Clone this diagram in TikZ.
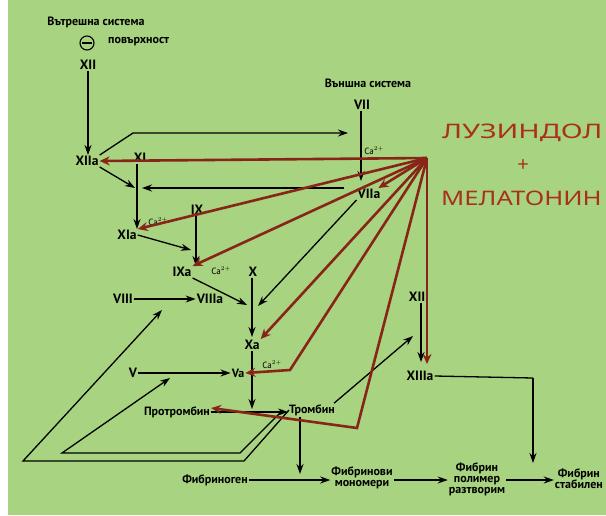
\documentclass[tikz,border=0pt]{standalone}
\usepackage{fontspec}
\setmainfont{PT Sans}
\newfontfamily\titlefont{Noto Sans}
\usetikzlibrary{arrows.meta}
\definecolor{bg}{RGB}{168,211,128}
\definecolor{rd}{RGB}{135,38,24}
\definecolor{tt}{RGB}{168,48,28}
\begin{document}
\begin{tikzpicture}[x=1pt,y=-1pt,
 lab/.style={font=\bfseries\fontsize{13.5}{14}\selectfont, inner sep=1pt},
 labs/.style={font=\bfseries\fontsize{12}{13}\selectfont, inner sep=1pt},
 sm/.style={font=\bfseries\fontsize{12}{12}\selectfont, inner sep=1pt, align=center},
 ca/.style={font=\fontsize{9}{9}\selectfont, inner sep=0pt},
 ttl/.style={font=\titlefont\fontsize{20}{20}\selectfont, text=tt, inner sep=0pt},
 bl/.style={line width=1.3pt, -{Stealth[length=10pt,width=7pt]}},
 bn/.style={line width=1.3pt},
 rl/.style={line width=2.6pt, draw=rd, -{Stealth[length=10pt,width=9pt]}},
]
\fill[white] (0,0) rectangle (606,515);
\fill[bg] (8,0) rectangle (606,515);
\useasboundingbox (0,0) rectangle (606,515);

% labels
\node[sm] (int) at (96,22) {Вътрешна система};
\node[draw, circle, line width=1.1pt, minimum size=14pt, inner sep=0pt] (surf) at (87,43) {};
\draw[line width=1.1pt] ([xshift=2.5pt]surf.west) -- ([xshift=-2.5pt]surf.east);
\node[sm, anchor=west] (pov) at (107,42) {повърхност};
\node[sm] (ext) at (368,83) {Външна система};

\node[lab] (XII) at (88,65) {XII};
\node[lab] (XIIa) at (87,161) {XIIa};
\node[lab] (XI) at (140,158) {XI};
\node[lab] (XIa) at (127,235) {XIa};
\node[lab] (IX) at (197,210) {IX};
\node[lab] (IXa) at (182,272) {IXa};
\node[lab] (X) at (253,272) {X};
\node[lab] (Xa) at (252,345) {Xa};
\node[lab] (VIII) at (123,299) {VIII};
\node[lab] (VIIIa) at (210,299) {VIIIa};
\node[lab] (V) at (133,373) {V};
\node[labs] (Va) at (238,373) {Va};
\node[lab] (VII) at (362,105) {VII};
\node[lab] (VIIa) at (369,194) {VIIa};
\node[lab] (XIII) at (419,297) {XIII};
\node[lab] (XIIIa) at (420,376) {XIIIa};

\node[sm] (prot) at (177,412) {Протромбин};
\node[sm] (trom) at (312,410) {Тромбин};
\node[sm] (fgen) at (215,480) {Фибриноген};
\node[sm] (fmon) at (362,478) {Фибринови\\[-1pt]мономери};
\node[sm] (fpol) at (477,479) {Фибрин\\[-1pt]полимер\\[-1pt]разтворим};
\node[sm, anchor=east] (fst) at (604,479) {Фибрин\\[-1pt]стабилен};

\node[ca] (ca1) at (374,151) {Ca$^{2+}$};
\node[ca] (ca2) at (158,222) {Ca$^{2+}$};
\node[ca] (ca3) at (221,271) {Ca$^{2+}$};
\node[ca] (ca4) at (272,365) {Ca$^{2+}$};

\node[ttl, anchor=west] (t1) at (442,133) {\scalebox{1.44}[1]{ЛУЗИНДОЛ}};
\node[ttl] (t2) at (523,166) {+};
\node[ttl, anchor=west] (t3) at (441,198) {\scalebox{1.28}[1]{МЕЛАТОНИН}};

% coordinates
\coordinate (hub) at (427,158);
\coordinate (k1) at (133,133);
\coordinate (k2) at (348,133);
\coordinate (jXI) at (137,188);
\coordinate (h1) at (344,188);
\coordinate (jIX) at (196,250);
\coordinate (jX) at (258,306);
\coordinate (jXb) at (247,305);
\coordinate (jP) at (252,409);
\coordinate (jT) at (413,336);
\coordinate (vb) at (290,370);
\coordinate (pb) at (357,428);
\coordinate (x13) at (427,364);
\coordinate (s1) at (533,378);
\coordinate (s2) at (533,463);
\coordinate (jF) at (300,474);
\coordinate (i1) at (283,410);
\coordinate (i2) at (240,453);
\coordinate (i3) at (62,453);
\coordinate (i4) at (170,378);
\coordinate (o1) at (289,410);
\coordinate (o2) at (244,461);
\coordinate (o3) at (23,461);
\coordinate (o4) at (162,310);

% black connectors
\draw[bl] (XII.south) -- (XII.south |- XIIa.north);
\draw[bl] (XIIa.north east) -- (k1) -- (k2);
\draw[bl] (XIIa.south east) -- ([xshift=-2pt]jXI);
\draw[bl] (XI.south -| jXI) -- (jXI |- XIa.north);
\draw[bl] (h1) -- ([xshift=5pt]jXI);
\draw[bl] (VII.south -| 361,0) -- (361,181);
\draw[bl] (VIIa.south west) -- (jX);
\draw[bl] (XIa.east) -- ([xshift=-5pt]jIX);
\draw[bl] (IX.south -| jIX) -- (jIX |- IXa.north);
\draw[bl] (IXa.south east) -- (jXb);
\draw[bl] (X.south -| 252,0) -- (252,337);
\draw[bl] (VIII) -- (VIIIa);
\draw[bl] (V) -- (Va);
\draw[bl] (Xa.south -| 252,0) -- (jP);
\draw[bl] (prot.east) -- (trom.west |- prot.east);
\draw[bl] ([xshift=22pt]trom.north) -- (jT);
\draw[bl] (XIII.south -| 421,0) -- (421,362);
\draw[bn] (XIIIa.east) -- (s1);
\draw[bl] (s1) -- (s2);
\draw[bl] ([xshift=-12pt]trom.south) -- (jF);
\draw[bl] (fgen.east) -- (fmon.west |- fgen.east);
\draw[bl] (fmon.east |- fgen.east) -- (fpol.west |- fgen.east);
\draw[bl] (fpol.east |- fgen.east) -- (fst.west |- fgen.east);
\draw[bl] (i1) -- (i2) -- (i3) -- (i4);
\draw[bl] (o1) -- (o2) -- (o3) -- (o4);

% red connectors
\draw[rl] (hub) -- (XIIa.east);
\draw[rl] (hub) -- ([xshift=-3pt]VIIa.north east);
\draw[rl] (hub) -- (XIa.north east);
\draw[rl] (hub) -- (IXa.north east);
\draw[rl] (hub) -- (Xa.north east);
\draw[rl] (hub) -- (vb) -- (Va.east);
\draw[rl] (hub) -- (pb) -- ([yshift=4pt]prot.east);
\draw[rl] (hub) -- (x13);
\end{tikzpicture}
\end{document}
